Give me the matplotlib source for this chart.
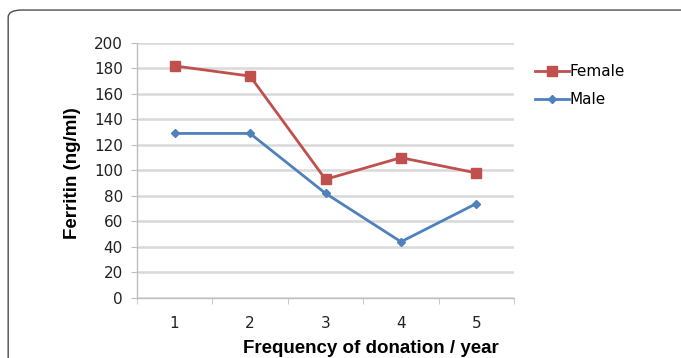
import matplotlib
matplotlib.use("Agg")
import matplotlib.pyplot as plt
from matplotlib.patches import FancyBboxPatch
import numpy as np

# donation frequency per year vs. mean ferritin
frequency = [1, 2, 3, 4, 5]
female = [182, 174, 93, 110, 98]
male = [129, 129, 82, 44, 74]

tick_font = ['Liberation Sans Narrow', 'DejaVu Sans']
label_font = ['Liberation Sans', 'DejaVu Sans']

fig = plt.figure(figsize=(6.81, 3.58), dpi=100)

# rounded frame around the panel (runs off the bottom and right edges)
frame = FancyBboxPatch((0.012, -0.5), 1.2, 1.472,
                       boxstyle="round,pad=0,rounding_size=0.02",
                       transform=fig.transFigure, fill=False,
                       edgecolor='#4d4d4d', linewidth=1.0, zorder=0)
fig.patches.append(frame)

ax = fig.add_axes([0.201, 0.168, 0.554, 0.712])

ax.plot(frequency, female, color='#c0504d', linewidth=2, marker='s',
        markersize=7, label='Female', zorder=3)
ax.plot(frequency, male, color='#4f81bd', linewidth=2, marker='D',
        markersize=4.5, label='Male', zorder=3)

ax.set_xlim(0.5, 5.5)
ax.set_ylim(0, 200)
ax.set_yticks(np.arange(0, 201, 20))
ax.set_xticks(frequency)
ax.set_xticks(np.arange(0.5, 5.6, 1), minor=True)
ax.tick_params(axis='x', which='major', length=0, pad=13)
ax.tick_params(axis='x', which='minor', length=4, color='#bfbfbf')
ax.tick_params(axis='y', length=4, color='#bfbfbf', pad=6)
for lab in ax.get_xticklabels() + ax.get_yticklabels():
    lab.set_family(tick_font)
    lab.set_fontsize(11)
    lab.set_color('#222222')

ax.grid(axis='y', color='#d9d9d9', linewidth=1.8)
ax.set_axisbelow(True)
for side in ['top', 'right']:
    ax.spines[side].set_visible(False)
for side in ['left', 'bottom']:
    ax.spines[side].set_color('#bfbfbf')
    ax.spines[side].set_linewidth(1.0)

ax.set_ylabel('Ferritin (ng/ml)', fontsize=13.5, fontweight='bold',
              family=label_font, va='center')
ax.yaxis.set_label_coords(-0.17, 0.49)
ax.set_xlabel('Frequency of donation / year', fontsize=13.5, fontweight='bold',
              family=label_font, va='center')
ax.xaxis.set_label_coords(0.62, -0.2)

leg = ax.legend(loc='upper left', bbox_to_anchor=(1.02, 0.97), frameon=False,
                handlelength=2.2, handletextpad=0.0, labelspacing=0.85,
                prop={'family': tick_font, 'size': 11})

fig.savefig('out.png', dpi=100)
